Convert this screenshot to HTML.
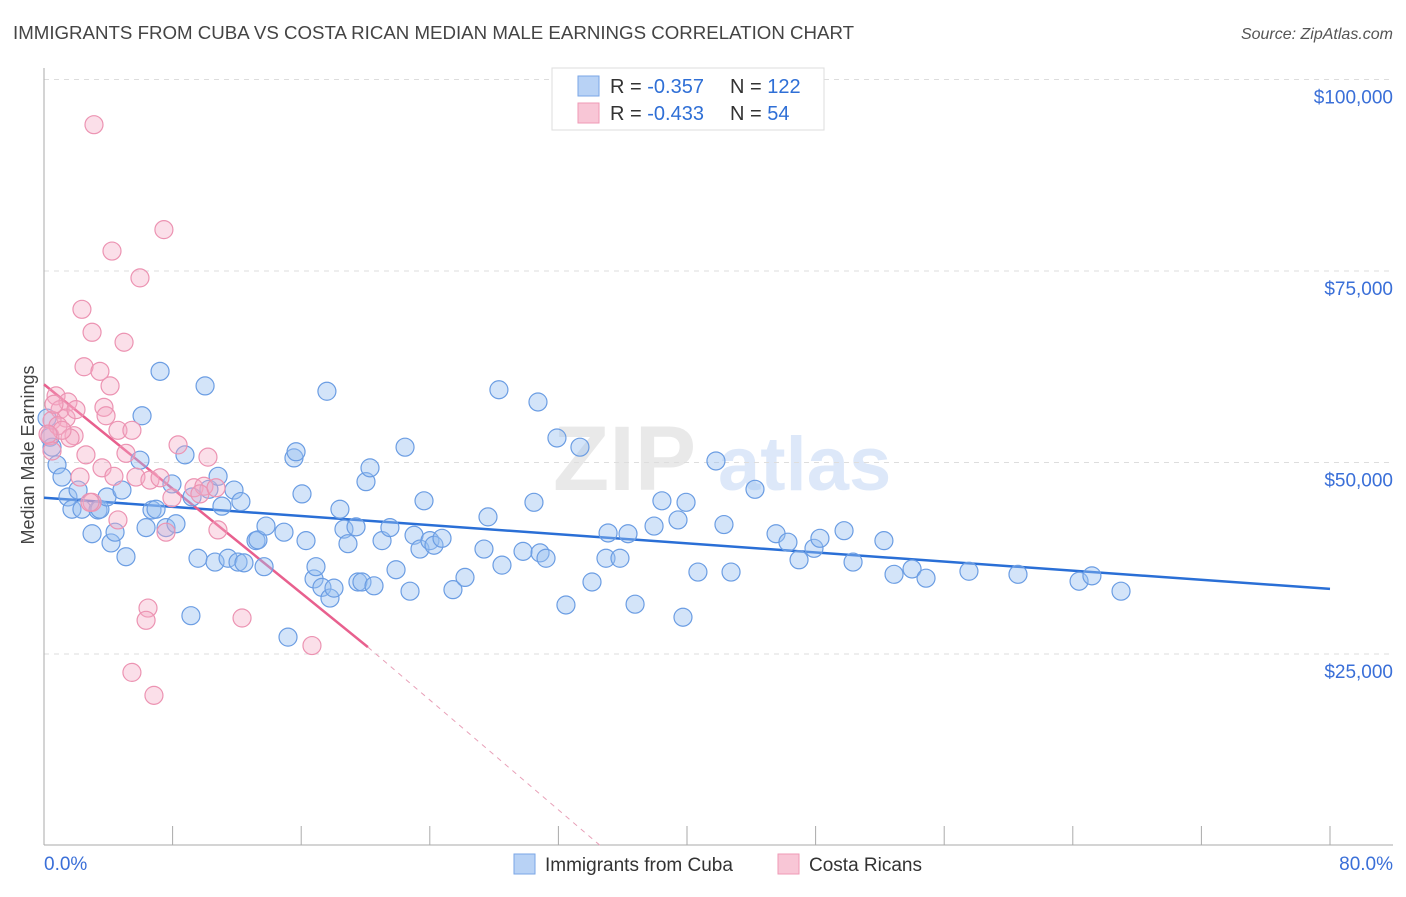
<!DOCTYPE html>
<html><head><meta charset="utf-8"><style>
body{margin:0;background:#fff;font-family:"Liberation Sans",sans-serif;}
svg text{font-family:"Liberation Sans",sans-serif;}
</style></head><body>
<svg id="chart" width="1406" height="892" xmlns="http://www.w3.org/2000/svg">
<text x="13" y="39" font-size="18.7" fill="#444">IMMIGRANTS FROM CUBA VS COSTA RICAN MEDIAN MALE EARNINGS CORRELATION CHART</text>
<text x="1393" y="39" font-size="16" fill="#555" text-anchor="end" font-style="italic">Source: ZipAtlas.com</text>
<text transform="translate(34,455) rotate(-90)" font-size="18" fill="#444" text-anchor="middle">Median Male Earnings</text>
<g opacity="0.18">
<text x="553" y="490" font-size="92" font-family="Liberation Serif" fill="#888" font-weight="bold">ZIP</text>
<text x="718" y="490" font-size="76" fill="#4a86e0" font-weight="bold">atlas</text>
</g>
<g id="grid"></g><g id="axes"></g><g id="trend"></g><g id="pts"></g>
<g>
<rect x="552" y="68" width="272" height="62" fill="#fff" stroke="#ddd"/>
<rect x="578" y="76" width="21" height="20" fill="#b8d2f5" stroke="#7aa6e6"/>
<rect x="578" y="103" width="21" height="20" fill="#f8c6d6" stroke="#ef9ab6"/>
<text x="610" y="93" font-size="20" fill="#333">R = <tspan fill="#2f6fd6">-0.357</tspan></text>
<text x="730" y="93" font-size="20" fill="#333">N = <tspan fill="#2f6fd6">122</tspan></text>
<text x="610" y="120" font-size="20" fill="#333">R = <tspan fill="#2f6fd6">-0.433</tspan></text>
<text x="730" y="120" font-size="20" fill="#333">N = <tspan fill="#2f6fd6"> 54</tspan></text>
</g>
<g>
<rect x="514" y="854" width="21" height="20" fill="#b8d2f5" stroke="#7aa6e6"/>
<text x="545" y="871" font-size="19" fill="#333">Immigrants from Cuba</text>
<rect x="778" y="854" width="21" height="20" fill="#f8c6d6" stroke="#ef9ab6"/>
<text x="809" y="871" font-size="19" fill="#333">Costa Ricans</text>
</g>
</svg>
<script>
const yTicks=[25000,50000,75000,100000];
const yTickLabels=["$25,000","$50,000","$75,000","$100,000"];
const xTickLabels=["0.0%","80.0%"];
const cubaX=[0.19,0.37,0.5,0.81,1.12,1.49,1.74,2.12,2.36,2.99,3.36,3.48,3.92,4.17,4.42,4.85,5.1,6.1,5.97,6.35,6.72,6.97,7.22,7.59,7.96,8.21,8.77,9.21,9.58,9.14,10.02,10.26,10.64,10.83,11.07,11.45,11.82,12.07,12.25,12.44,13.19,13.31,13.69,13.81,14.93,15.18,15.55,15.68,16.05,16.3,16.8,16.92,17.29,17.6,17.79,18.04,18.41,18.66,18.91,19.41,19.53,19.78,20.03,20.28,20.53,21.03,21.52,21.9,22.46,22.77,23.02,23.39,23.64,24.01,24.26,24.76,25.44,26.19,27.62,27.37,28.3,28.49,29.8,30.48,30.73,30.86,31.23,31.91,32.47,33.34,34.09,34.96,35.09,35.83,36.33,36.77,37.95,38.44,39.44,39.94,39.75,40.68,41.8,42.3,42.74,44.23,45.54,46.28,46.97,47.9,48.27,49.77,50.33,52.25,52.88,54.0,54.87,57.54,60.59,64.39,65.19,67.0];
const cubaY=[55.8,53.3,52.0,49.7,48.1,45.5,43.9,46.4,43.9,40.7,43.8,43.9,45.5,39.5,40.9,46.4,37.7,56.1,50.3,41.5,43.8,43.9,61.9,41.5,47.2,42.0,51.0,45.5,37.5,30.0,60.0,46.5,37.0,48.2,44.3,37.5,46.4,37.0,44.9,36.9,39.8,39.9,36.4,41.7,40.9,27.2,50.6,51.4,45.9,39.8,34.8,36.4,33.7,59.3,32.3,33.6,43.9,41.3,39.4,41.6,34.4,34.4,47.5,49.3,33.9,39.8,41.5,36.0,52.0,33.2,40.5,38.7,45.0,39.8,39.2,40.1,33.4,35.0,42.9,38.7,59.5,36.6,38.4,44.8,57.9,38.2,37.5,53.2,31.4,52.0,34.4,37.5,40.8,37.5,40.7,31.5,41.7,45.0,42.5,44.8,29.8,35.7,50.2,41.9,35.7,46.5,40.7,39.6,37.3,38.8,40.1,41.1,37.0,39.8,35.4,36.1,34.9,35.8,35.4,34.5,35.2,33.2];
const costaX=[3.11,4.23,5.97,7.46,2.36,2.99,4.98,2.49,3.48,4.11,0.75,1.49,1.0,1.37,1.99,1.87,3.73,3.86,0.5,0.37,0.87,1.62,4.6,5.47,2.61,5.1,8.34,10.2,3.61,5.72,6.59,2.24,2.99,9.33,9.95,4.6,7.59,10.82,6.47,6.35,12.32,16.67,5.47,6.84,4.35,7.22,0.5,0.62,1.12,2.86,7.96,9.7,10.7,0.25];
const costaY=[94.1,77.6,74.1,80.4,70.0,67.0,65.7,62.5,61.9,60.0,58.7,57.9,56.9,55.8,56.9,53.5,57.2,56.1,55.5,53.5,54.8,53.2,54.2,54.2,51.0,51.2,52.3,50.7,49.3,48.1,47.7,48.1,44.8,46.7,46.9,42.5,40.9,41.2,31.0,29.4,29.7,26.1,22.6,19.6,48.2,48.0,51.5,57.6,54.2,44.8,45.4,45.9,46.7,53.7];
const cubaTrend=[45.4,33.5];
const costaTrend=[60.2,25.9,20.15,34.6];
const X0=44,X1=1330,Y0=845.5,PXK=7.66;
const sx=p=>X0+(p/80)*(X1-X0);
const sy=k=>Y0-k*PXK;
const NS="http://www.w3.org/2000/svg";
function mk(tag,parent,attrs){const e=document.createElementNS(NS,tag);for(const k in attrs)e.setAttribute(k,attrs[k]);document.getElementById(parent).appendChild(e);return e;}
yTicks.forEach((v,i)=>{
  const y=sy(v/1000);
  const l=mk('line','grid',{x1:44,x2:1393,y1:y,y2:y,stroke:'#ddd','stroke-dasharray':'5,5'});
  
  
  const t=mk('text','grid',{x:1393,y:y+24,'font-size':19,fill:'#3a6fd8','text-anchor':'end'});
  t.textContent=yTickLabels[i];
  
  
});
const ax=mk('line','axes',{x1:44,x2:44,y1:68,y2:845,stroke:'#aaa'});


const bx=mk('line','axes',{x1:44,x2:1393,y1:845,y2:845,stroke:'#aaa'});


for(let i=0;i<=10;i++){const x=sx(i*8);const t=mk('line','axes',{x1:x,x2:x,y1:826,y2:845,stroke:'#aaa'});
  
  }
const xl=mk('text','axes',{x:44,y:870,'font-size':19,fill:'#3a6fd8'});xl.textContent=xTickLabels[0];


const xr=mk('text','axes',{x:1393,y:870,'font-size':19,fill:'#3a6fd8','text-anchor':'end'});xr.textContent=xTickLabels[1];


cubaX.forEach((v,i)=>{const c=mk('circle','pts',{cx:sx(v),cy:sy(cubaY[i]),r:9,fill:'rgba(150,190,240,0.42)',stroke:'#6b9de3','stroke-width':1.2});
  
  });
costaX.forEach((v,i)=>{const c=mk('circle','pts',{cx:sx(v),cy:sy(costaY[i]),r:9,fill:'rgba(245,170,198,0.38)',stroke:'#ec93b2','stroke-width':1.2});
  
  });
const bt=mk('line','trend',{x1:sx(0),y1:sy(cubaTrend[0]),x2:sx(80),y2:sy(cubaTrend[1]),stroke:'#2a6fd6','stroke-width':2.5});


const pt=mk('line','trend',{x1:sx(0),y1:sy(costaTrend[0]),x2:sx(costaTrend[2]),y2:sy(costaTrend[1]),stroke:'#e8608e','stroke-width':2.5});


const pd=mk('line','trend',{x1:sx(costaTrend[2]),y1:sy(costaTrend[1]),x2:sx(costaTrend[3]),y2:sy(0),stroke:'#e8a0b8','stroke-width':1,'stroke-dasharray':'5,5'});


</script>
</body></html>
